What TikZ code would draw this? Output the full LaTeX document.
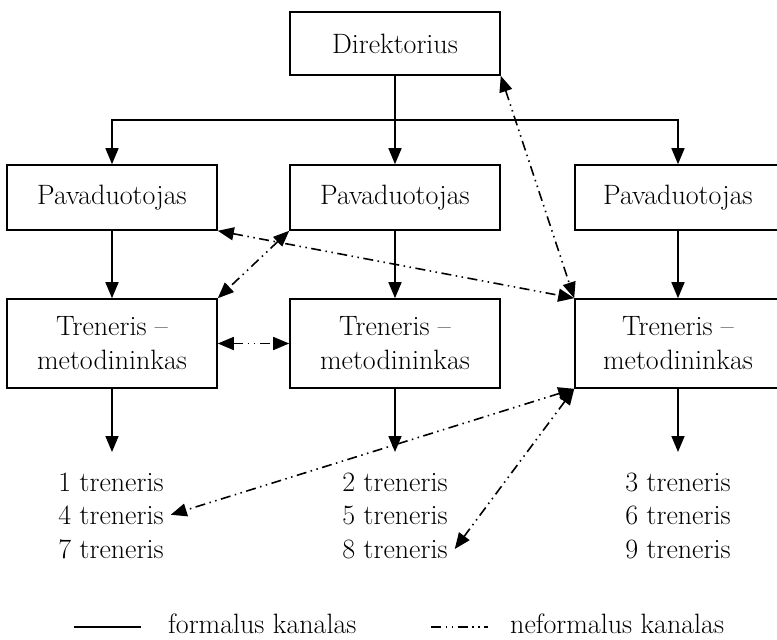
\documentclass[tikz,border=0pt]{standalone}
\usetikzlibrary{arrows.meta}
\begin{document}
\begin{tikzpicture}[x=1pt,y=-1pt,
  every node/.style={font=\fontsize{28}{34}\selectfont},
  box/.style={draw, line width=1.6pt, minimum width=210pt, inner sep=0pt, align=center},
  formal/.style={line width=1.6pt, -{Triangle[length=16pt,width=13pt]}},
  dashdotdot/.style={line width=1.6pt, dash pattern=on 10pt off 4.5pt on 1.5pt off 4.5pt on 1.5pt off 4.5pt},
  informal/.style={dashdotdot, {Triangle[length=16pt,width=13pt]}-{Triangle[length=16pt,width=13pt]}},
  item/.style={inner ysep=0pt, inner xsep=7pt, anchor=base}]
\useasboundingbox (0,0) rectangle (777,640);
\clip (0,0) rectangle (777,640);

% management levels
\node[box, minimum height=63pt] (dir) at (395,43.5) {Direktorius};
\node[box, minimum height=65pt] (pav1) at (112,197.5) {Pavaduotojas};
\node[box, minimum height=65pt] (pav2) at (395,197.5) {Pavaduotojas};
\node[box, minimum height=65pt, minimum width=206pt] (pav3) at (678,197.5) {Pavaduotojas};
\node[box, minimum height=89pt] (tr1) at (112,343.5) {Treneris --\\metodininkas};
\node[box, minimum height=89pt] (tr2) at (395,343.5) {Treneris --\\metodininkas};
\node[box, minimum height=89pt, minimum width=206pt] (tr3) at (678,343.5) {Treneris --\\metodininkas};

% coaches
\node[item] (t1) at (111,491) {1 treneris};
\node[item] (t4) at (111,524) {4 treneris};
\node[item] (t7) at (111,558) {7 treneris};
\node[item] (t2) at (395,491) {2 treneris};
\node[item] (t5) at (395,524) {5 treneris};
\node[item] (t8) at (395,558) {8 treneris};
\node[item] (t3) at (678,491) {3 treneris};
\node[item] (t6) at (678,524) {6 treneris};
\node[item] (t9) at (678,558) {9 treneris};

% formal channels
\coordinate (bus) at (395,120);
\draw[formal] (dir.south) -- (pav2.north);
\draw[formal] (bus) -| (pav1.north);
\draw[formal] (bus) -| (pav3.north);
\draw[formal] (pav1) -- (tr1);
\draw[formal] (pav2) -- (tr2);
\draw[formal] (pav3) -- (tr3);
\coordinate (e1) at (112,452);
\coordinate (e2) at (395,452);
\coordinate (e3) at (678,452);
\draw[formal] (tr1.south) -- (e1);
\draw[formal] (tr2.south) -- (e2);
\draw[formal] (tr3.south) -- (e3);

% informal channels
\draw[informal] (dir.south east) -- (tr3.north west);
\draw[informal] (pav1.south east) -- (tr3.north west);
\draw[informal] (pav2.south west) -- (tr1.north east);
\draw[informal] (tr1.east) -- (tr2.west);
\draw[informal] (tr3.south west) -- (t4.east);
\draw[informal] (tr3.south west) -- (t8.east);

% legend
\coordinate (la) at (74,627);
\coordinate (lb) at (141,627);
\coordinate (lc) at (431,627);
\coordinate (ld) at (488,627);
\draw[line width=1.6pt] (la) -- (lb);
\draw[dashdotdot] (lc) -- (ld);
\node[anchor=base west, inner sep=0pt] (lf) at (168,633) {formalus kanalas};
\node[anchor=base west, inner sep=0pt] (ln) at (510,633) {neformalus kanalas};
\end{tikzpicture}
\end{document}
